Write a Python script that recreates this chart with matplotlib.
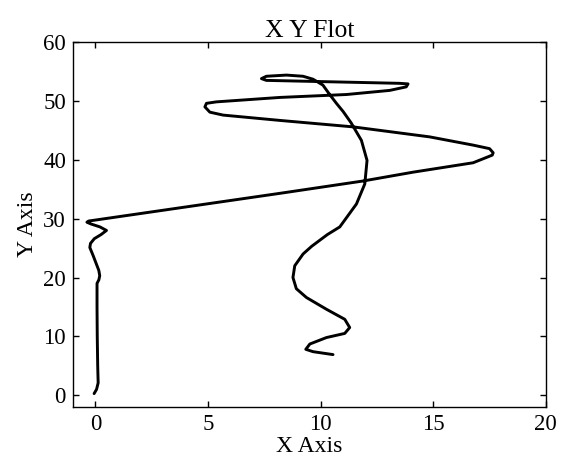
import matplotlib
matplotlib.use("Agg")
import matplotlib.pyplot as plt

x_vals = [-0.06, 0.05, 0.12, 0.10, 0.08, 0.07, 0.07, 0.15, 0.19, 0.15, 0.07, -0.02, -0.10, -0.25, -0.22, -0.05,
          0.25, 0.49, 0.20, -0.20, -0.38, -0.30,
          8.18, 11.88, 14.10, 16.77, 17.36, 17.62, 17.66, 17.50, 16.77, 14.84, 11.44, 8.18, 5.67, 5.08, 4.86,
          4.93, 5.37, 8.18, 11.15, 13.07, 13.80, 13.88, 13.50, 9.96, 7.59, 7.37, 7.59, 8.48, 9.22, 9.66, 10.10,
          10.40, 10.70, 11.00, 11.35, 11.81, 12.06, 11.96, 11.59, 10.85, 10.30, 9.60, 9.22, 8.85, 8.77, 8.92,
          9.37, 10.26, 11.07, 11.29, 11.07, 10.26, 9.52, 9.34, 9.66, 10.55]
y_vals = [0.27, 1.0, 2.1, 5.0, 10.0, 15.0, 19.0, 19.6, 20.3, 21.2, 22.0, 22.9, 23.7, 25.1, 25.8, 26.6,
          27.3, 28.0, 28.6, 29.1, 29.4, 29.6,
          34.3, 36.4, 37.9, 39.5, 40.4, 40.8, 41.2, 41.9, 42.5, 43.9, 45.6, 46.7, 47.6, 48.1, 49.0,
          49.6, 49.85, 50.6, 51.1, 51.8, 52.4, 52.9, 53.0, 53.3, 53.5, 53.8, 54.2, 54.4, 54.2, 53.7, 52.7,
          51.1, 49.6, 48.2, 46.3, 43.3, 39.9, 35.9, 32.5, 28.6, 27.3, 25.3, 24.0, 22.0, 20.0, 18.1,
          16.6, 14.6, 12.9, 11.5, 10.5, 9.8, 8.7, 7.8, 7.4, 6.9]

title_text = "X Y Flot"
x_label = "X Axis"
y_label = "Y Axis"
x_ticks = [0, 5, 10, 15, 20]
y_ticks = [0, 10, 20, 30, 40, 50, 60]

plt.rcParams['font.family'] = ['Liberation Serif', 'DejaVu Serif']
fig = plt.figure(figsize=(5.61, 4.63), dpi=100)
ax = fig.add_axes([0.130, 0.121, 0.843, 0.788])
ax.plot(x_vals, y_vals, color='black', lw=2.1, solid_joinstyle='round', solid_capstyle='round')
ax.set_xlim(-1, 20)
ax.set_ylim(-2, 60)
ax.set_xticks(x_ticks)
ax.set_yticks(y_ticks)
ax.tick_params(direction='in', top=True, right=True, length=4, width=1, labelsize=16.5, pad=5)
for s in ax.spines.values():
    s.set_linewidth(1.0)
ax.set_title(title_text, fontsize=18.5, pad=4)
ax.set_xlabel(x_label, fontsize=17, labelpad=1)
ax.set_ylabel(y_label, fontsize=17, labelpad=4)
fig.savefig("out.png", dpi=100)
